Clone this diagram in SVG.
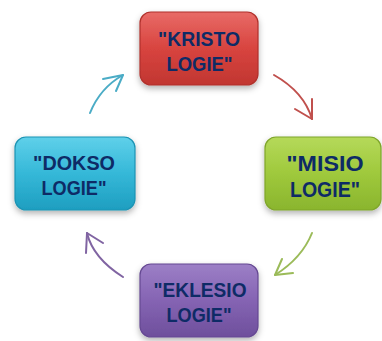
<svg xmlns="http://www.w3.org/2000/svg" width="382" height="341" viewBox="0 0 382 341">
<defs>
<style>
.box{stroke-width:1.2}
.lbl{font-family:"Liberation Sans",Arial,sans-serif;font-weight:bold;font-size:21px;fill:#0E2B66;text-anchor:middle}
.big{font-size:22px}
.arr{fill:none;stroke-width:2;stroke-linecap:round;stroke-linejoin:round}
</style>
<filter id="sh" x="-20%" y="-20%" width="140%" height="150%">
<feDropShadow dx="0" dy="3" stdDeviation="3" flood-color="#000" flood-opacity="0.3"/>
</filter>
<linearGradient id="gR" x1="0" y1="0" x2="0" y2="1"><stop offset="0" stop-color="#E86B67"/><stop offset="0.5" stop-color="#D8443F"/><stop offset="1" stop-color="#C13631"/></linearGradient>
<linearGradient id="gG" x1="0" y1="0" x2="0" y2="1"><stop offset="0" stop-color="#B5D95A"/><stop offset="0.5" stop-color="#9FC93C"/><stop offset="1" stop-color="#8AB52E"/></linearGradient>
<linearGradient id="gC" x1="0" y1="0" x2="0" y2="1"><stop offset="0" stop-color="#5FD0EA"/><stop offset="0.5" stop-color="#35B8D8"/><stop offset="1" stop-color="#1E9EC0"/></linearGradient>
<linearGradient id="gP" x1="0" y1="0" x2="0" y2="1"><stop offset="0" stop-color="#9C7FC6"/><stop offset="0.5" stop-color="#8564B3"/><stop offset="1" stop-color="#6E4F9C"/></linearGradient>
</defs>
<rect width="382" height="341" fill="#fff"/>
<g id="connectors">
<g><path class="arr" stroke="#C0504D" d="M274 75 Q304 92 312 119"/><path class="arr" stroke="#C0504D" d="M295 109 L312 119 L312 99"/></g>
<g><path class="arr" stroke="#9BBB59" d="M312 233 Q302 258 275 275"/><path class="arr" stroke="#9BBB59" d="M293 273 L275 275 L282 259"/></g>
<g><path class="arr" stroke="#8064A2" d="M123 277 Q93 258 87 233"/><path class="arr" stroke="#8064A2" d="M86 253 L87 233 L103 243"/></g>
<g><path class="arr" stroke="#4BACC6" d="M90 113 Q100 88 123 75"/><path class="arr" stroke="#4BACC6" d="M103 79 L123 75 L116 91"/></g>
</g>
<g id="kristologie">
<rect class="box" x="140" y="12" width="118" height="73" rx="11" fill="url(#gR)" stroke="#B0302C" filter="url(#sh)"/>
<text class="lbl" x="199" y="45.5" textLength="82" lengthAdjust="spacingAndGlyphs">"KRISTO</text>
<text class="lbl" x="199.5" y="70.5" textLength="66" lengthAdjust="spacingAndGlyphs">LOGIE"</text>
</g>
<g id="misiologie">
<rect class="box" x="265" y="137" width="116" height="73" rx="11" fill="url(#gG)" stroke="#7FA52A" filter="url(#sh)"/>
<text class="lbl big" x="325" y="170.5" textLength="77" lengthAdjust="spacingAndGlyphs">"MISIO</text>
<text class="lbl big" x="325" y="196.5" textLength="70" lengthAdjust="spacingAndGlyphs">LOGIE"</text>
</g>
<g id="doksologie">
<rect class="box" x="15" y="137" width="120" height="73" rx="11" fill="url(#gC)" stroke="#1C93B3" filter="url(#sh)"/>
<text class="lbl" x="74" y="170" textLength="82" lengthAdjust="spacingAndGlyphs">"DOKSO</text>
<text class="lbl" x="74" y="195" textLength="65" lengthAdjust="spacingAndGlyphs">LOGIE"</text>
</g>
<g id="eklesiologie">
<rect class="box" x="140" y="264" width="118" height="73" rx="11" fill="url(#gP)" stroke="#654892" filter="url(#sh)"/>
<text class="lbl" x="200" y="297" textLength="93" lengthAdjust="spacingAndGlyphs">"EKLESIO</text>
<text class="lbl" x="199" y="322" textLength="65" lengthAdjust="spacingAndGlyphs">LOGIE"</text>
</g>
</svg>
